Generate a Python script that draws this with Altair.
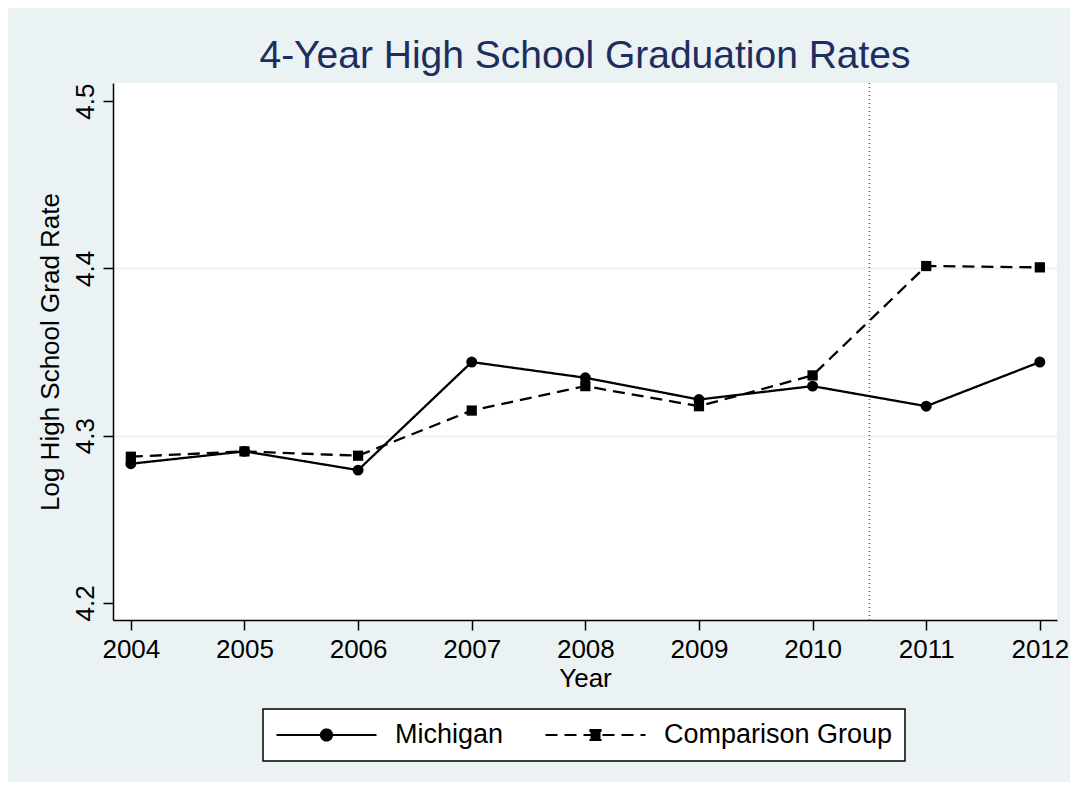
import altair as alt
import pandas as pd

years = [2004, 2005, 2006, 2007, 2008, 2009, 2010, 2011, 2012]
michigan = [4.2832, 4.2906, 4.2794, 4.3440, 4.3346, 4.3216, 4.3296, 4.3176, 4.3440]
comparison = [4.2874, 4.2906, 4.2880, 4.3150, 4.3296, 4.3176, 4.3360, 4.4014, 4.4006]
groups = ["Michigan", "Comparison Group"]
y_ticks = [4.2, 4.3, 4.4, 4.5]
cutoff = [2010.5]

rows = []
for g, vals in zip(groups, [michigan, comparison]):
    for yr, v in zip(years, vals):
        rows.append({"Year": yr, "rate": v, "group": g})
df = pd.DataFrame(rows)

FONT = "Liberation Sans"
BG = "#EAF2F3"
X_DOMAIN = [2003.843, 2012.151]

x_enc = alt.X(
    "Year:Q",
    scale=alt.Scale(domain=X_DOMAIN, nice=False, zero=False),
    axis=alt.Axis(
        values=years, format="d", title="Year", grid=False,
        tickSize=10, labelPadding=6, titleBaseline="alphabetic", titleY=66,
    ),
)
y_enc = alt.Y(
    "rate:Q",
    scale=alt.Scale(domain=[4.1898, 4.5108], nice=False, zero=False),
    axis=alt.Axis(
        values=y_ticks, format=".1f", title="Log High School Grad Rate",
        tickSize=10, labelPadding=5, labelAngle=270, labelAlign="center",
        labelBaseline="bottom", grid=True, gridColor=BG, gridWidth=2,
        gridOpacity={"condition": {"test": "datum.value > 4.25 && datum.value < 4.45", "value": 1}, "value": 0},
        titleBaseline="alphabetic", titleX=-55, titleAngle=270,
    ),
)

circle_path = "M-1,0L1,0M0.11,0A0.11,0.11,0,1,1,-0.11,0A0.11,0.11,0,1,1,0.11,0Z"
square_path = "M-1,0L1,0M-0.1,-0.1L0.1,-0.1L0.1,0.1L-0.1,0.1Z"

legend = alt.Legend(
    orient="none", legendX=150, legendY=626, direction="horizontal", title=None,
    fillColor="white", strokeColor="black", padding=12, clipHeight=28,
    labelFont=FONT, labelFontSize=27, labelColor="black", labelOffset=17,
    labelLimit=400,
    columnPadding=40, symbolSize=10000, symbolStrokeWidth=2.2,
    symbolStrokeColor="black", symbolFillColor="black",
    symbolType={"expr": f"datum.value === 'Michigan' ? '{circle_path}' : '{square_path}'"},
)

rule = alt.Chart(pd.DataFrame({"x": cutoff})).mark_rule(
    color="#555555", strokeDash=[1, 3], strokeWidth=1.5
).encode(x=alt.X("x:Q", scale=alt.Scale(domain=X_DOMAIN, nice=False, zero=False)))

lines = alt.Chart(df).mark_line(color="black", strokeWidth=2.3).encode(
    x=x_enc, y=y_enc,
    strokeDash=alt.StrokeDash(
        "group:N",
        scale=alt.Scale(domain=groups, range=[[1, 0], [12, 7]]),
        legend=legend,
    ),
)

pts_mich = alt.Chart(df).transform_filter(alt.datum.group == groups[0]).mark_point(
    filled=True, color="black", size=120, opacity=1, shape="circle"
).encode(x=x_enc, y=y_enc)

pts_comp = alt.Chart(df).transform_filter(alt.datum.group == groups[1]).mark_point(
    filled=True, color="black", size=105, opacity=1, shape="square"
).encode(x=x_enc, y=y_enc)

chart = alt.layer(rule, lines, pts_mich, pts_comp).properties(
    width=944, height=537,
    title=alt.TitleParams(
        "4-Year High School Graduation Rates", font=FONT, fontSize=39,
        fontWeight="normal", color="#1C2D5E", anchor="middle", frame="group",
        baseline="alphabetic", offset=-25,
    ),
    background=BG,
    padding={"left": 105, "top": 75, "right": 13, "bottom": 162},
    autosize=alt.AutoSizeParams(type="none"),
).configure_view(fill="white", strokeWidth=0).configure_axis(
    labelFont=FONT, labelFontSize=26, labelColor="black",
    titleFont=FONT, titleFontSize=26, titleColor="black", titleFontWeight="normal",
    domainColor="black", domainWidth=1.5, tickColor="black", tickWidth=1.5,
).configure_legend(strokeWidth=1.5)

chart.save("out.html", embed_options={"renderer": "svg", "actions": False})
